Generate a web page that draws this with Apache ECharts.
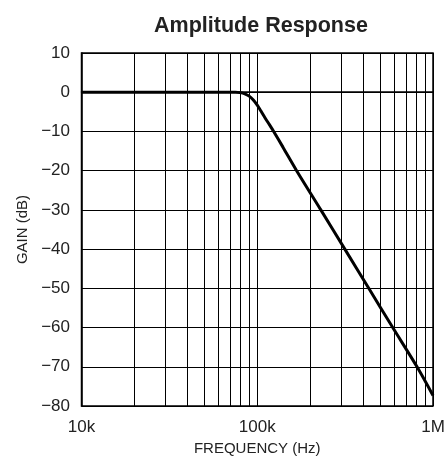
<!DOCTYPE html>
<html>
<head>
<meta charset="utf-8">
<script src="https://cdn.jsdelivr.net/npm/echarts@6/dist/echarts.min.js"></script>
<style>
html,body{margin:0;padding:0;background:#fff;}
#c{width:447px;height:456px;}
</style>
</head>
<body>
<div id="c"></div>
<script>
var titleText = 'Amplitude Response';
var xAxisName = 'FREQUENCY (Hz)';
var yAxisName = 'GAIN (dB)';
var freqs = [10000, 20000, 40000, 60000, 75000, 80000, 85000, 90000, 95000, 100000, 105000, 110000, 117000, 124000, 140000, 167500, 230000, 315000, 431000, 590000, 811000, 1000000];
var gains = [0, 0, 0, 0, 0, -0.1, -0.4, -1.0, -2.0, -3.3, -4.8, -6.3, -8.2, -10, -14, -20, -30, -40, -50, -60, -70, -77.3];
var xTickLabels = {10000: '10k', 100000: '100k', 1000000: '1M'};
var minorGridFreqs = [20000, 30000, 40000, 50000, 60000, 70000, 80000, 90000, 200000, 300000, 400000, 500000, 600000, 700000, 800000, 900000];
var yMin = -80, yMax = 10, yStep = 10;

var textColor = '#222';
var chart = echarts.init(document.getElementById('c'), null, {renderer: 'canvas'});
var points = freqs.map(function (f, i) { return [f, gains[i]]; });
chart.setOption({
  animation: false,
  backgroundColor: '#fff',
  title: {
    text: titleText,
    left: 256, top: 10, textAlign: 'center',
    textStyle: {fontFamily: '"Liberation Sans", Arial, sans-serif', fontWeight: 'bold', fontSize: 21.5, color: textColor}
  },
  grid: {left: 81.5, right: 14, top: 53, bottom: 50, show: true, borderColor: '#000', borderWidth: 1.5, backgroundColor: 'transparent', containLabel: false, outerBoundsMode: 'none'},
  xAxis: {
    type: 'log', logBase: 10, min: 10000, max: 1000000,
    name: xAxisName, nameLocation: 'middle', nameGap: 35,
    nameTextStyle: {fontFamily: '"Liberation Sans", Arial, sans-serif', fontSize: 15, color: textColor},
    axisLine: {show: true, lineStyle: {color: '#000', width: 1.5}},
    axisTick: {show: false},
    splitLine: {show: true, lineStyle: {color: '#000', width: 1}},
    axisLabel: {
      margin: 13, fontFamily: '"Liberation Sans", Arial, sans-serif', fontSize: 17, color: textColor,
      formatter: function (v) { return xTickLabels[Math.round(v)] || ''; }
    }
  },
  yAxis: {
    type: 'value', min: yMin, max: yMax, interval: yStep,
    name: yAxisName, nameLocation: 'middle', nameGap: 47, nameRotate: 90,
    nameTextStyle: {fontFamily: '"Liberation Sans", Arial, sans-serif', fontSize: 15, color: textColor},
    axisLine: {show: true, lineStyle: {color: '#000', width: 1.5}},
    axisTick: {show: false},
    splitLine: {show: true, lineStyle: {color: '#000', width: 1}},
    axisLabel: {
      margin: 11.5, fontFamily: '"Liberation Sans", Arial, sans-serif', fontSize: 17, color: textColor,
      formatter: function (v) { return v < 0 ? '\u2212' + Math.abs(v) : String(v); }
    }
  },
  series: [{
    type: 'line',
    data: points,
    smooth: 0.3,
    symbol: 'none',
    lineStyle: {color: '#000', width: 3},
    z: 5,
    markLine: {
      silent: true, symbol: 'none', label: {show: false},
      lineStyle: {color: '#000', width: 1, type: 'solid'},
      z: 1,
      data: minorGridFreqs.map(function (f) { return {xAxis: f}; })
    }
  }]
});
</script>
</body>
</html>
